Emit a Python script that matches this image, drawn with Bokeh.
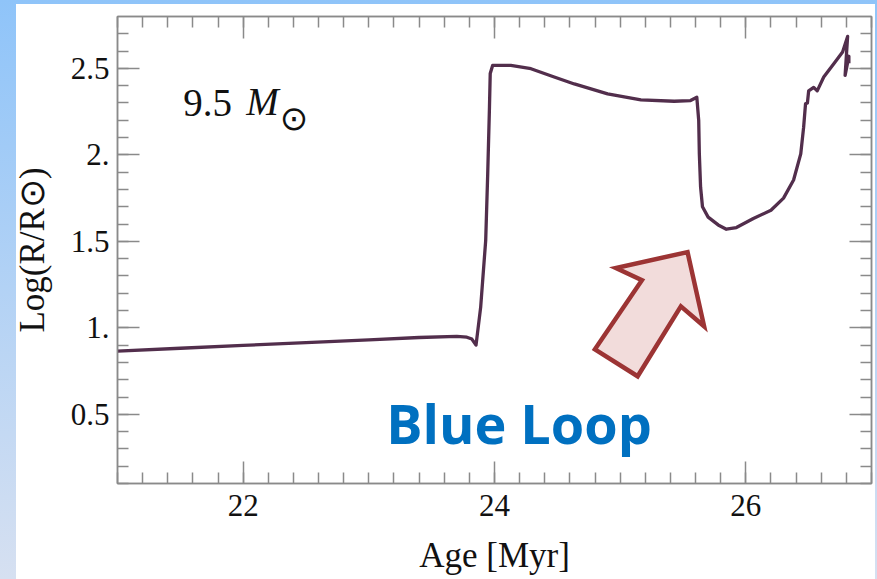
from bokeh.plotting import figure
from bokeh.models import FixedTicker, LinearAxis, Label
from bokeh.embed import file_html
from bokeh.resources import INLINE

# ---- data ----
age = [21.0, 21.5, 22.0, 22.5, 23.0, 23.4, 23.7, 23.78, 23.82, 23.853,
       23.89, 23.93, 23.946, 23.96, 23.966, 23.985, 24.13, 24.29, 24.475,
       24.635, 24.90, 25.165, 25.43, 25.56, 25.61, 25.625, 25.63, 25.64,
       25.655, 25.70, 25.78, 25.845, 25.925, 26.06, 26.20, 26.30, 26.38,
       26.437, 26.46, 26.475, 26.49, 26.50, 26.54, 26.568, 26.62, 26.70,
       26.77, 26.81, 26.79, 26.82, 26.82]
log_r = [0.865, 0.882, 0.898, 0.915, 0.930, 0.944, 0.951, 0.946, 0.935, 0.900,
         1.12, 1.506, 1.89, 2.276, 2.47, 2.517, 2.517, 2.498, 2.45,
         2.41, 2.353, 2.318, 2.31, 2.314, 2.333, 2.20, 2.006, 1.813,
         1.70, 1.64, 1.595, 1.57, 1.58, 1.632, 1.68, 1.75, 1.855,
         2.006, 2.16, 2.295, 2.30, 2.37, 2.39, 2.37, 2.45, 2.527,
         2.595, 2.685, 2.46, 2.57, 2.53]

x_major = [22, 24, 26]
x_minor = [21 + 0.2 * i for i in range(31)]
y_major = [0.5, 1.0, 1.5, 2.0, 2.5]
y_minor = [0.1 + 0.1 * i for i in range(28)]
y_overrides = {1: "1.", 2: "2."}

# annotation arrow (data units)
arrow_x = [25.536, 25.668, 25.483, 25.139, 24.799, 25.173, 24.966]
arrow_y = [1.438, 1.009, 1.124, 0.720, 0.876, 1.275, 1.346]

x_title = "Age [Myr]"
y_title = "Log(R/R⊙)"
mass_label = "9.5 "
mass_symbol = "M"
sun_symbol = "⊙"
note_text = "Blue Loop"

SERIF = "Liberation Serif"
GRAY = "#8a8a8a"

p = figure(width=877, height=579, x_range=(21, 27), y_range=(0.1, 2.8),
           output_backend="svg", toolbar_location=None,
           min_border_left=117, min_border_right=6,
           min_border_top=16, min_border_bottom=96,
           x_axis_label=x_title, y_axis_label=y_title)
p.border_fill_color = None
p.background_fill_color = "white"
p.styles = {"background": "linear-gradient(#ffffff, #ffffff) 16px 4px / 859px 100% no-repeat, "
                          "linear-gradient(to bottom, #8fc4f9, #d6e0f1)"}
p.outline_line_color = GRAY
p.outline_line_width = 1.5
p.grid.visible = False

p.add_layout(LinearAxis(), "above")
p.add_layout(LinearAxis(), "right")

for ax in p.xaxis:
    ax.ticker = FixedTicker(ticks=x_major, minor_ticks=x_minor)
for ax in p.yaxis:
    ax.ticker = FixedTicker(ticks=y_major, minor_ticks=y_minor)
    ax.major_label_overrides = y_overrides

for ax in p.axis:
    ax.axis_line_color = GRAY
    ax.axis_line_width = 1.5
    ax.major_tick_line_color = GRAY
    ax.minor_tick_line_color = GRAY
    ax.major_tick_line_width = 1.5
    ax.minor_tick_line_width = 1.5
    ax.major_tick_in = 22
    ax.major_tick_out = 0
    ax.minor_tick_in = 11
    ax.minor_tick_out = 0
    ax.major_label_text_font = SERIF
    ax.major_label_text_font_size = "31px"
    ax.major_label_text_color = "#111111"
    ax.axis_label_text_font = SERIF
    ax.axis_label_text_font_size = "35px"
    ax.axis_label_text_font_style = "normal"
    ax.axis_label_text_color = "#111111"

# mirrored axes: ticks only, no labels
p.above[0].major_label_overrides = {t: "" for t in x_major}
p.right[0].major_label_overrides = {t: "" for t in y_major}
p.above[0].major_label_standoff = 0
p.right[0].major_label_standoff = 0

bottom_axis = p.below[0]
left_axis = p.left[0]
bottom_axis.major_label_standoff = 11
bottom_axis.axis_label_standoff = 17
left_axis.major_label_standoff = 8
left_axis.axis_label_standoff = 16

# evolutionary track
p.line(age, log_r, line_color="#522e4c", line_width=3.3, line_join="round")

# arrow
p.patch(arrow_x, arrow_y, fill_color="#f2dcdb", line_color="#9c3434",
        line_width=4.5, line_join="miter")

# labels
p.add_layout(Label(x=21.523, y=2.303, text=mass_label, text_font=SERIF,
                   text_font_size="39px", text_color="#111111",
                   text_baseline="alphabetic"))
p.add_layout(Label(x=22.024, y=2.307, text=mass_symbol, text_font=SERIF,
                   text_font_style="italic", text_font_size="39px",
                   text_color="#111111", text_baseline="alphabetic"))
p.add_layout(Label(x=22.405, y=2.212, text=sun_symbol, text_font="DejaVu Sans",
                   text_font_size="34px", text_color="#111111",
                   text_align="center", text_baseline="middle"))
p.add_layout(Label(x=24.195, y=0.448, text=note_text, text_font="Open Sans",
                   text_font_style="bold", text_font_size="54px",
                   text_color="#0070c0", text_align="center",
                   text_baseline="alphabetic"))

open("out.html", "w").write(file_html(p, INLINE))
